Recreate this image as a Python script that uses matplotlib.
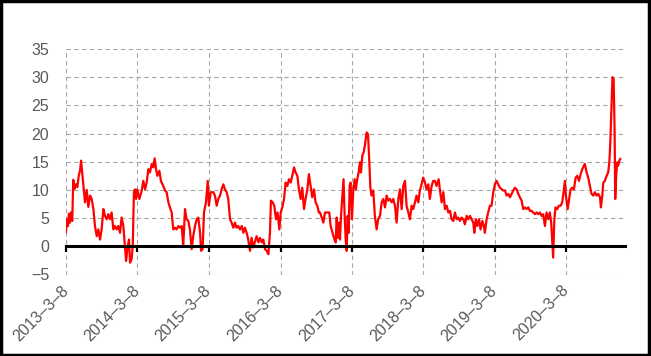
import pandas as pd
import matplotlib
matplotlib.use("Agg")
import matplotlib.pyplot as plt
from matplotlib.patches import Rectangle

# days after 2013-03-08 and the series value on that day
days = [
    0, 5, 10, 15, 20, 26, 32, 37, 44, 51, 58, 65, 72, 77, 83, 89, 97, 106, 114, 123,
    131, 140, 148, 157, 165, 174, 182, 191, 199, 208, 216, 225, 233, 242, 250, 259, 267, 276, 284, 293,
    301, 307, 315, 322, 327, 335, 341, 347, 352, 358, 364, 375, 387, 395, 404, 412, 421, 429, 438, 446,
    453, 460, 467, 477, 485, 497, 506, 514, 523, 531, 540, 548, 557, 565, 574, 582, 591, 599, 608, 616,
    625, 633, 642, 650, 659, 668, 676, 685, 690, 698, 705, 715, 724, 730, 739, 753, 761, 770, 778, 787,
    795, 804, 812, 821, 829, 838, 846, 855, 863, 872, 880, 889, 898, 906, 914, 923, 931, 940, 948, 957,
    966, 974, 983, 991, 1000, 1008, 1017, 1025, 1034, 1042, 1047, 1056, 1064, 1073, 1081, 1090, 1097, 1105, 1114, 1122,
    1131, 1139, 1148, 1156, 1165, 1173, 1182, 1190, 1199, 1207, 1216, 1224, 1233, 1241, 1250, 1258, 1267, 1275, 1284, 1292,
    1298, 1315, 1323, 1332, 1345, 1352, 1362, 1369, 1378, 1383, 1388, 1395, 1400, 1405, 1412, 1418, 1423, 1429, 1434, 1439,
    1444, 1449, 1454, 1461, 1468, 1475, 1481, 1488, 1495, 1502, 1507, 1514, 1521, 1527, 1536, 1543, 1549, 1555, 1561, 1570,
    1578, 1587, 1595, 1604, 1613, 1621, 1630, 1638, 1647, 1655, 1664, 1672, 1681, 1689, 1698, 1706, 1715, 1723, 1732, 1740,
    1749, 1757, 1766, 1774, 1783, 1791, 1800, 1808, 1817, 1825, 1834, 1842, 1851, 1859, 1868, 1876, 1885, 1893, 1904, 1910,
    1919, 1928, 1936, 1945, 1953, 1962, 1970, 1979, 1987, 1996, 2004, 2013, 2021, 2030, 2038, 2047, 2055, 2064, 2072, 2081,
    2086, 2094, 2101, 2110, 2118, 2127, 2135, 2140, 2149, 2157, 2166, 2174, 2183, 2191, 2200, 2208, 2217, 2226, 2234, 2243,
    2251, 2260, 2268, 2277, 2285, 2294, 2302, 2311, 2319, 2328, 2336, 2345, 2353, 2362, 2370, 2379, 2387, 2396, 2404, 2413,
    2421, 2430, 2438, 2447, 2455, 2464, 2472, 2479, 2484, 2489, 2495, 2501, 2510, 2518, 2527, 2535, 2540, 2549, 2554, 2563,
    2571, 2578, 2587, 2595, 2604, 2612, 2621, 2629, 2638, 2646, 2651, 2660, 2668, 2677, 2685, 2694, 2702, 2711, 2719, 2728,
    2733, 2740, 2745, 2753, 2762, 2770, 2776, 2781, 2787, 2792, 2798, 2803, 2806, 2811, 2816, 2821, 2827, 2832,
]
values = [
    2.5, 4.8, 3.6, 5.8, 4.2, 6.0, 4.5, 11.8, 10.2, 11.0, 10.5, 12.5, 13.5, 15.2, 13.0, 10.7, 7.8, 10.0, 7.0, 9.0,
    8.4, 6.6, 3.6, 1.8, 3.0, 1.2, 3.0, 6.6, 5.4, 4.8, 5.7, 4.8, 6.0, 3.0, 3.6, 3.0, 3.6, 2.4, 5.1, 3.6,
    0.0, -2.6, 0.0, 1.2, -2.9, -2.3, 0.0, 9.6, 10.1, 8.4, 10.1, 8.4, 9.9, 11.6, 10.1, 11.3, 13.7, 13.1, 14.6, 14.0,
    15.6, 13.7, 12.5, 13.4, 11.6, 10.7, 9.9, 9.6, 7.8, 6.9, 6.0, 3.0, 3.3, 3.0, 3.6, 3.3, 3.6, 0.0, 6.6, 4.8,
    4.5, 3.0, -0.5, 1.8, 3.6, 4.8, 5.1, 2.4, -0.8, -0.5, 6.0, 7.8, 11.6, 7.2, 9.6, 9.6, 9.0, 7.2, 8.4, 9.0,
    10.1, 11.0, 10.1, 9.6, 8.4, 4.8, 4.2, 3.3, 4.2, 3.3, 3.6, 3.0, 3.6, 2.4, 3.3, 2.4, 1.2, -0.8, 1.5, -0.2,
    0.9, 1.8, 0.7, 1.5, 0.7, 1.2, -0.5, -0.8, -1.4, 2.4, 8.1, 7.8, 7.2, 4.8, 6.0, 3.0, 6.0, 6.9, 8.4, 11.3,
    10.7, 11.9, 11.3, 12.5, 14.0, 13.1, 12.5, 10.1, 8.4, 10.4, 6.6, 8.4, 10.1, 12.8, 10.7, 8.7, 10.1, 7.8, 7.2, 6.0,
    6.0, 4.2, 6.0, 6.0, 6.0, 3.6, 2.4, 1.5, 0.7, 5.1, 1.5, 4.2, 1.2, 5.4, 9.0, 11.9, 6.0, 1.2, -0.8, 5.4,
    2.4, 10.7, 11.3, 4.8, 10.1, 11.9, 10.1, 11.9, 13.1, 14.9, 13.1, 16.1, 16.7, 17.9, 20.2, 19.9, 15.5, 10.4, 9.0, 9.9,
    5.4, 3.0, 4.8, 5.4, 7.8, 8.4, 6.9, 9.0, 8.1, 8.4, 7.8, 8.4, 7.2, 4.2, 8.4, 10.1, 6.6, 10.7, 11.6, 7.2,
    6.0, 4.8, 7.2, 6.6, 7.8, 9.0, 7.8, 9.9, 11.0, 12.2, 11.3, 10.1, 11.0, 8.4, 10.7, 11.6, 11.6, 10.7, 11.9, 10.1,
    7.8, 9.6, 6.6, 7.2, 6.0, 6.3, 4.8, 4.5, 6.0, 4.8, 5.1, 4.5, 5.1, 4.8, 3.9, 5.4, 4.8, 5.4, 4.8, 4.2,
    2.4, 4.8, 3.6, 4.8, 3.0, 4.5, 3.6, 2.4, 4.8, 6.0, 7.2, 7.2, 9.6, 11.0, 11.6, 11.0, 10.4, 10.1, 9.9, 9.9,
    9.0, 9.3, 8.7, 9.3, 9.9, 10.4, 10.1, 9.3, 8.7, 8.1, 6.6, 6.9, 6.6, 6.9, 6.3, 6.3, 6.0, 5.7, 6.0, 5.7,
    6.0, 5.4, 5.7, 3.6, 6.0, 4.8, 6.0, 4.2, 1.2, -2.0, 4.8, 6.9, 6.6, 7.2, 7.2, 7.8, 9.0, 11.6, 9.0, 6.6,
    8.4, 10.1, 10.4, 10.1, 12.2, 12.5, 11.6, 12.8, 13.7, 14.3, 14.6, 13.1, 12.2, 10.7, 9.3, 9.0, 9.6, 9.0, 9.3, 8.7,
    6.9, 9.0, 11.3, 11.6, 12.5, 13.1, 14.9, 18.5, 25.0, 30.0, 29.7, 20.2, 8.4, 12.5, 14.9, 14.3, 15.2, 15.5,
]

tick_years = [2013, 2014, 2015, 2016, 2017, 2018, 2019, 2020]
tick_labels = [f"{y}\u20133\u20138" for y in tick_years]

start = pd.Timestamp("2013-03-08")
dates = start + pd.to_timedelta(days, unit="D")
tick_dates = [pd.Timestamp(f"{y}-03-08") for y in tick_years]

plt.rcParams["font.family"] = ["Liberation Sans", "DejaVu Sans"]

fig = plt.figure(figsize=(6.51, 3.56), dpi=100)
ax = fig.add_axes([66 / 651, 1 - 274.5 / 356, (625 - 66) / 651, (274.5 - 49) / 356])

ax.plot(dates, values, color="#FF0000", linewidth=1.6, zorder=3)

ax.set_xlim(start, start + pd.Timedelta(days=2856))
ax.set_ylim(-5, 35)
ax.set_yticks(range(-5, 36, 5))
ax.set_xticks(tick_dates)
ax.set_xticklabels(tick_labels)

for name in ["left", "right", "top"]:
    ax.spines[name].set_visible(False)
# the category axis crosses at zero
ax.spines["bottom"].set_position(("data", 0))
ax.spines["bottom"].set_linewidth(2.2)
ax.spines["bottom"].set_color("black")
ax.spines["bottom"].set_zorder(4)

ax.grid(True, color="#A6A6A6", linestyle=(0, (4, 3)), linewidth=0.8)
ax.tick_params(axis="y", length=0, pad=12, labelsize=11.5, labelcolor="#595959")
ax.tick_params(axis="x", length=4, width=1.6, color="black", direction="out",
               pad=26, labelsize=11.5, labelcolor="#595959")
for lab in ax.get_xticklabels():
    lab.set_rotation(45)
    lab.set_ha("right")
    lab.set_va("center")
    lab.set_rotation_mode("anchor")

# outer frame
fig.patches.append(Rectangle((0.002, 0.003), 0.995, 0.993, transform=fig.transFigure,
                             fill=False, edgecolor="black", linewidth=2.5))

fig.savefig("out.png", dpi=100)
